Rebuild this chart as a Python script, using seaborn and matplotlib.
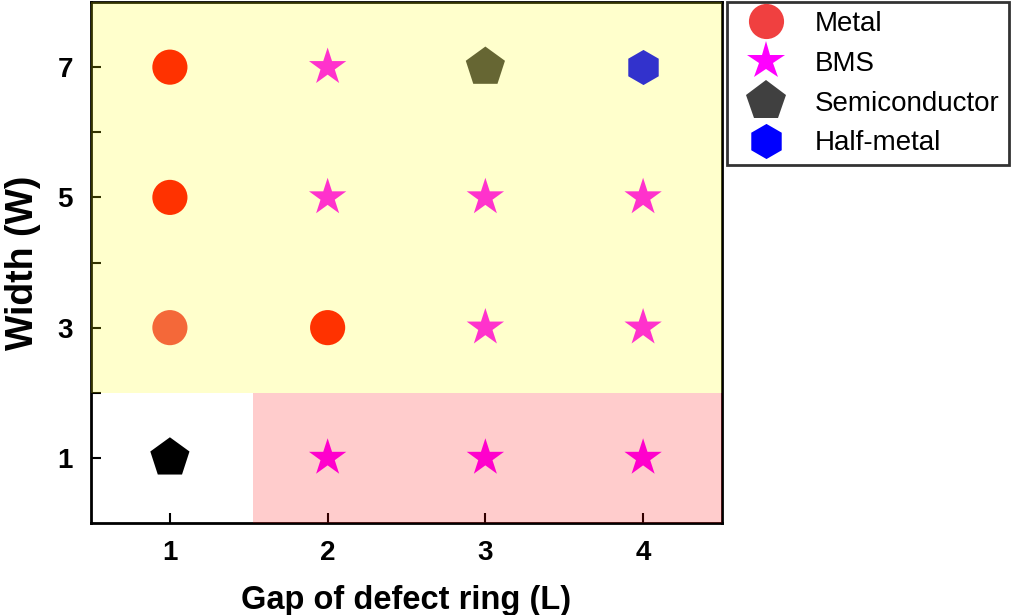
import matplotlib
matplotlib.use("Agg")
import matplotlib.pyplot as plt
from matplotlib.lines import Line2D
import seaborn as sns
import pandas as pd

# phase diagram points: gap L, width W, phase, colour
gap = [1, 1, 1, 2,
       2, 2, 2, 3, 3, 3, 4, 4, 4,
       1, 3,
       4]
width = [7, 5, 3, 3,
         7, 5, 1, 5, 3, 1, 5, 3, 1,
         1, 7,
         7]
phase = ["Metal", "Metal", "Metal", "Metal",
         "BMS", "BMS", "BMS", "BMS", "BMS", "BMS", "BMS", "BMS", "BMS",
         "Semiconductor", "Semiconductor",
         "Half-metal"]
point_color = ["#FF0000", "#FF0000", "#F24348", "#FF0000",
               "#FF00FF", "#FF00FF", "#FF00FF", "#FF00FF", "#FF00FF",
               "#FF00FF", "#FF00FF", "#FF00FF", "#FF00FF",
               "#000000", "#404040",
               "#0000FF"]
legend_names = ["Metal", "BMS", "Semiconductor", "Half-metal"]
legend_colors = ["#F04040", "#FF00FF", "#404040", "#0000FF"]
markers = {"Metal": "o", "BMS": "*", "Semiconductor": "p", "Half-metal": "h"}
sizes = {"Metal": 640, "BMS": 800, "Semiconductor": 880, "Half-metal": 640}

df = pd.DataFrame({"L": gap, "W": width, "phase": phase, "color": point_color})

plt.rcParams["font.family"] = ["Liberation Sans", "DejaVu Sans"]

fig = plt.figure(figsize=(10.16, 6.15), dpi=100)
ax = fig.add_axes([0.0896, 0.1496, 0.621, 0.8471])

for name in legend_names:
    sub = df[df["phase"] == name]
    sns.scatterplot(data=sub, x="L", y="W", hue="color",
                    palette={c: c for c in sub["color"].unique()},
                    marker=markers[name], s=sizes[name], linewidth=0,
                    legend=False, ax=ax, zorder=2)

# translucent regions over the markers
ax.fill_between([0.5, 4.5], 2, 8, color="#FFFF00", alpha=0.2, linewidth=0, zorder=3)
ax.fill_between([1.53, 4.5], 0, 2, color="#FF0000", alpha=0.2, linewidth=0, zorder=3)

ax.set_xlim(0.5, 4.5)
ax.set_ylim(0, 8)
ax.set_xticks([1, 2, 3, 4])
ax.set_yticks([1, 3, 5, 7])
ax.set_yticks([2, 4, 6], minor=True)
ax.tick_params(axis="both", which="both", direction="in", width=1.5)
ax.tick_params(axis="both", which="major", length=7, labelsize=20)
ax.tick_params(axis="x", which="major", pad=12)
ax.tick_params(axis="y", which="major", pad=13)
ax.tick_params(axis="y", which="minor", length=7)
for lab in ax.get_xticklabels() + ax.get_yticklabels():
    lab.set_fontweight("bold")
for sp in ax.spines.values():
    sp.set_linewidth(2)
    sp.set_color("black")

ax.set_xlabel("Gap of defect ring (L)", fontsize=23.5, fontweight="bold", labelpad=14)
ax.set_ylabel("Width (W)", fontsize=27, fontweight="bold", labelpad=12)

handles = [Line2D([], [], linestyle="none", marker=markers[n], color=c,
                  markersize=(sizes[n] ** 0.5), markeredgewidth=0)
           for n, c in zip(legend_names, legend_colors)]
leg = fig.legend(handles, legend_names, loc="upper left",
                 bbox_to_anchor=(0.7156, 0.997), bbox_transform=fig.transFigure,
                 fontsize=20, frameon=True, fancybox=False, borderaxespad=0,
                 handlelength=2.2, handletextpad=0.65, labelspacing=0.5,
                 borderpad=0.32)
leg.get_frame().set_edgecolor("black")
leg.get_frame().set_linewidth(2)

fig.savefig("out.png", dpi=100)
